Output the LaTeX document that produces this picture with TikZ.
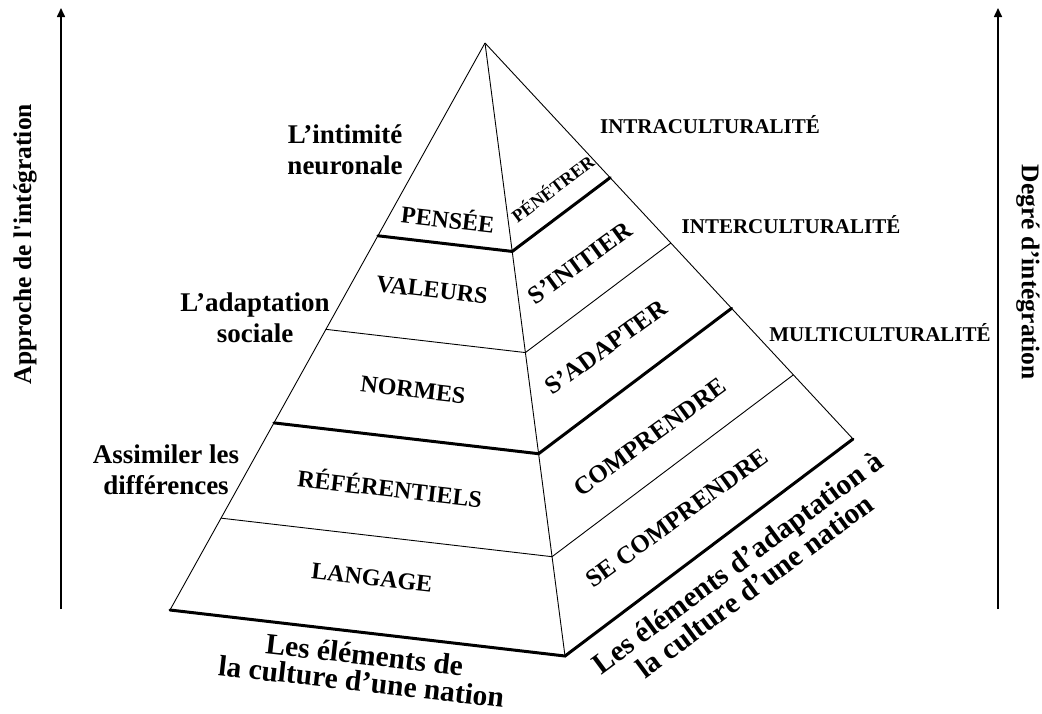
\documentclass[tikz,border=0pt]{standalone}
\usepackage{fontspec}
\setmainfont{Liberation Serif}
\usetikzlibrary{calc, arrows.meta}

\begin{document}
\begin{tikzpicture}[
  x=1pt, y=-1pt,
  rim/.style={line width=0.9pt, line join=round},
  seamthin/.style={line width=0.9pt},
  seamthick/.style={line width=3pt, line cap=round},
  leftface/.style={font=\fontsize{24}{28}\selectfont\bfseries,
                   inner sep=0pt, rotate=-6.5},
  rightface/.style={font=\fontsize{25}{28}\selectfont\bfseries,
                    inner sep=0pt, rotate=36},
  level/.style={font=\fontsize{21}{24}\selectfont\bfseries, inner sep=0pt},
  side/.style={font=\fontsize{27}{31.5}\selectfont\bfseries, align=center,
               inner sep=0pt},
  axislab/.style={font=\fontsize{25.5}{30}\selectfont\bfseries,
                  inner sep=0pt},
  rise/.style={-{Triangle[length=9pt,width=8pt]}, line width=1.6pt},
]
\useasboundingbox (0,0) rectangle (1042,713);

% =========================================================================
% Pyramid: apex, left / front / right base corners
% =========================================================================
\coordinate (apex) at (485,43);
\coordinate (bl)   at (170,610);
\coordinate (bm)   at (565,656);
\coordinate (br)   at (853,439);

% seam points on the three edges (same fraction on every edge)
\foreach \n/\f in {1/0.34, 2/0.505, 3/0.67, 4/0.838}{
  \coordinate (l\n) at ($(apex)!\f!(bl)$);
  \coordinate (m\n) at ($(apex)!\f!(bm)$);
  \coordinate (r\n) at ($(apex)!\f!(br)$);
}

\draw[rim] (apex) -- (bl);
\draw[rim] (apex) -- (bm);
\draw[rim] (apex) -- (br);

% level seams: thick ones close a group, thin ones split it
\draw[seamthick] (l1) -- (m1) -- (r1);
\draw[seamthin]  (l2) -- (m2) -- (r2);
\draw[seamthick] (l3) -- (m3) -- (r3);
\draw[seamthin]  (l4) -- (m4) -- (r4);
\draw[seamthick] (bl) -- (bm) -- (br);

% ---- left face: the elements ---------------------------------------------
\node[leftface] (pensee) at (448,218) {PENSÉE};
\node[leftface] (valeurs) at (432,290) {VALEURS};
\node[leftface] (normes) at (413,390) {NORMES};
\node[leftface] (referentiels) at (390,487) {RÉFÉRENTIELS};
\node[leftface] (langage) at (372,578) {LANGAGE};

% ---- right face: the adaptation ------------------------------------------
\node[rightface, font=\fontsize{18}{20}\selectfont\bfseries, rotate=1]
  (penetrer) at (552,188) {PÉNÉTRER};
\node[rightface] (initier) at (580,263) {S’INITIER};
\node[rightface] (adapter) at (606,347) {S’ADAPTER};
\node[rightface] (comprendre) at (650,437) {COMPRENDRE};
\node[rightface] (secomprendre) at (677,518) {SE COMPRENDRE};

% ---- levels of culture, right of the pyramid -----------------------------
\node[level] (intra) at (710,125) {INTRACULTURALITÉ};
\node[level] (inter) at (791,225) {INTERCULTURALITÉ};
\node[level] (multi) at (880,333) {MULTICULTURALITÉ};

% ---- approaches, left of the pyramid -------------------------------------
\node[side] (intimite) at (345,150) {L’intimité\\neuronale};
\node[side] (adaptation) at (255,318) {L’adaptation\\sociale};
\node[side] (assimiler) at (166,470) {Assimiler les\\différences};

% ---- base captions -------------------------------------------------------
\node[side, font=\fontsize{29.5}{27}\selectfont\bfseries, rotate=-6.5]
  (culture) at (363,668) {Les éléments de\\la culture d’une nation};
\node[side, font=\fontsize{29.5}{29}\selectfont\bfseries, rotate=36.5]
  (adaptculture) at (746,574)
  {Les éléments d’adaptation à\\la culture d’une nation};

% =========================================================================
% The two vertical axes
% =========================================================================
\coordinate (lfoot) at (61,609);
\coordinate (ltop)  at (61,8);
\coordinate (rfoot) at (998,609);
\coordinate (rtop)  at (998,8);
\draw[rise] (lfoot) -- (ltop);
\draw[rise] (rfoot) -- (rtop);

\node[axislab, rotate=90] (approche) at (25,244)
  {Approche de l\textquotesingle intégration};
\node[axislab, rotate=-90] (degre) at (1028,272) {Degré d’intégration};

\end{tikzpicture}
\end{document}
